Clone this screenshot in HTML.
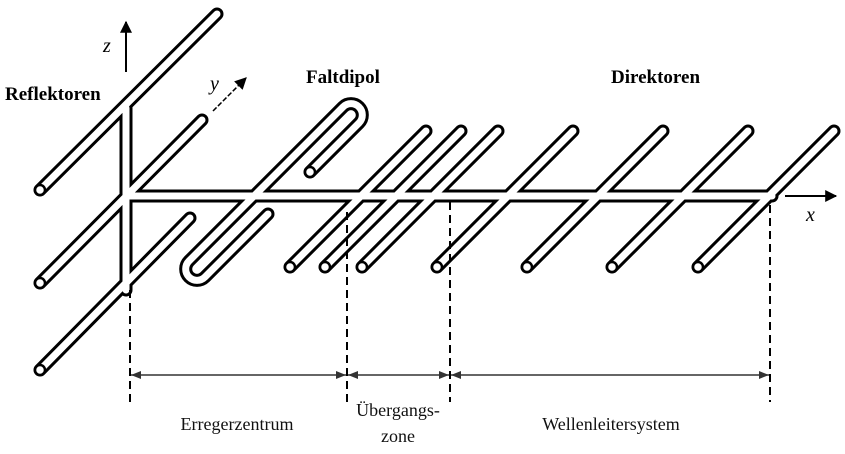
<!DOCTYPE html>
<html><head><meta charset="utf-8"><style>
html,body{margin:0;padding:0;background:#fff;}
svg{display:block;font-family:"Liberation Serif",serif;}
</style></head><body>
<svg width="845" height="454" viewBox="0 0 845 454">
<defs>
<marker id="ah" viewBox="0 0 10 10" refX="10" refY="5" markerWidth="10" markerHeight="10" markerUnits="userSpaceOnUse" orient="auto-start-reverse"><path d="M0,1 L10,5 L0,9 z" fill="#333"/></marker>
<marker id="ak" viewBox="0 0 10 10" refX="9" refY="5" markerWidth="14" markerHeight="12" markerUnits="userSpaceOnUse" orient="auto"><path d="M0,0 L10,5 L0,10 z" fill="#000"/></marker>
</defs>
<g id="black" stroke="#000" stroke-width="13" stroke-linecap="round" fill="none"></g>
<g id="white" stroke="#fff" stroke-width="7" stroke-linecap="round" fill="none"></g>
<g id="ends"></g>

<line x1="126" y1="72" x2="126" y2="22" stroke="#000" stroke-width="2" marker-end="url(#ak)"/>
<text x="103" y="52" font-size="20" font-style="italic">z</text>
<line x1="213" y1="111" x2="246" y2="78" stroke="#000" stroke-width="1.5" stroke-dasharray="5,2" marker-end="url(#ak)"/>
<text x="210" y="90" font-size="20" font-style="italic">y</text>
<line x1="785" y1="196" x2="836" y2="196" stroke="#000" stroke-width="2" marker-end="url(#ak)"/>
<text x="806" y="221" font-size="20" font-style="italic">x</text>

<text x="5" y="100" font-size="19" font-weight="bold">Reflektoren</text>
<text x="306" y="83" font-size="19" font-weight="bold">Faltdipol</text>
<text x="611" y="83" font-size="19" font-weight="bold">Direktoren</text>

<g stroke="#000" stroke-width="2" stroke-dasharray="8,5">
<line x1="130" y1="290" x2="130" y2="402"/>
<line x1="347" y1="212" x2="347" y2="402"/>
<line x1="450" y1="202" x2="450" y2="402"/>
<line x1="770" y1="205" x2="770" y2="402"/>
</g>
<g stroke="#333" stroke-width="1.5">
<line x1="131" y1="375" x2="346" y2="375" marker-start="url(#ah)" marker-end="url(#ah)"/>
<line x1="348" y1="375" x2="449" y2="375" marker-start="url(#ah)" marker-end="url(#ah)"/>
<line x1="451" y1="375" x2="769" y2="375" marker-start="url(#ah)" marker-end="url(#ah)"/>
</g>
<g font-size="18" text-anchor="middle" fill="#111">
<text x="237" y="430">Erregerzentrum</text>
<text x="398" y="416">Übergangs-</text>
<text x="398" y="442">zone</text>
<text x="611" y="430">Wellenleitersystem</text>
</g>
</svg>
<script>
const NS='http://www.w3.org/2000/svg';
const reflectors=[[40,190,217,14],[40,283,202,120],[40,370,190,218]];
const directorNearX=[290,325,362,437,527,612,698];
const directorLen=136;
const shapes=[];
shapes.push({d:'M126 108 L126 290',name:'mast'});
shapes.push({d:'M126 196 L772 196',name:'boom'});
reflectors.forEach((r,i)=>shapes.push({d:`M${r[0]} ${r[1]} L${r[2]} ${r[3]}`,name:'reflector-'+(i+1),end:[r[0],r[1]]}));
directorNearX.forEach((x,i)=>shapes.push({d:`M${x} 267 L${x+directorLen} ${267-directorLen}`,name:'director-'+(i+1),end:[x,267]}));
shapes.push({d:'M310 172 L359 123 A11.3 11.3 0 0 0 343 107 L189 261 A11.3 11.3 0 0 0 205 277 L268 214',name:'folded-dipole',end:[310,172]});
const gb=document.getElementById('black'),gw=document.getElementById('white'),ge=document.getElementById('ends');
shapes.forEach(s=>{
  const p1=document.createElementNS(NS,'path');p1.setAttribute('d',s.d);
  
  
  gb.appendChild(p1);
  const p2=document.createElementNS(NS,'path');p2.setAttribute('d',s.d);
  
  
  gw.appendChild(p2);
  if(s.end){
    const c=document.createElementNS(NS,'circle');
    c.setAttribute('cx',s.end[0]);c.setAttribute('cy',s.end[1]);c.setAttribute('r',5);
    c.setAttribute('fill','#fff');c.setAttribute('stroke','#000');c.setAttribute('stroke-width','2.5');
    
    
    ge.appendChild(c);
  }
});
</script>
</body></html>
